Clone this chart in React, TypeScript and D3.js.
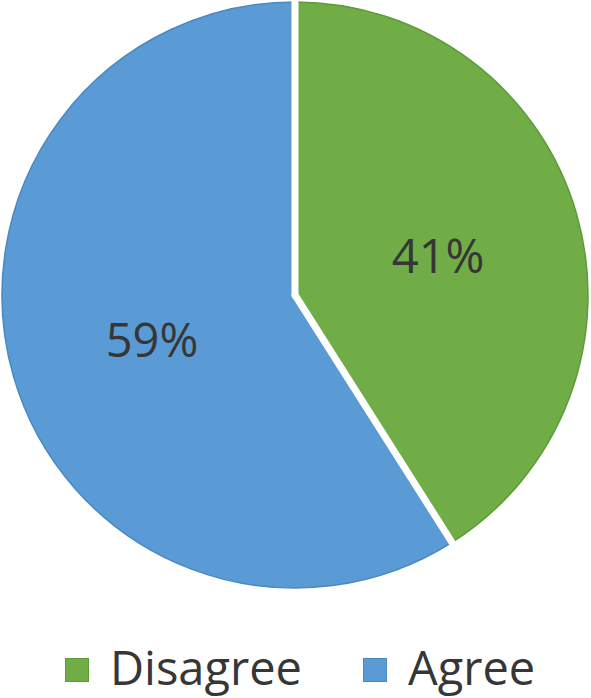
import React from "react";
import * as d3 from "d3";

// chart data
const categories = ["Disagree", "Agree"];
const shares = [41, 59];
const colors = ["#70AD47", "#5B9BD5"];
const edgeColors = ["#5E9A38", "#4A88C4"];

const W = 591;
const H = 698;
const cx = 295;
const cy = 295;
const R = 293;

export default function App() {
  const pie = d3.pie<number>().sort(null).value((d) => d);
  const arcs = pie(shares);
  const arc = d3.arc<d3.PieArcDatum<number>>().innerRadius(0).outerRadius(R);
  const labelArc = d3.arc<d3.PieArcDatum<number>>().innerRadius(149).outerRadius(149);

  // legend layout
  const legendX = d3.scaleOrdinal<string, number>().domain(categories).range([65, 363]);

  return (
    <svg width={W} height={H} style={{ position: "absolute", left: 0, top: 0, background: "#fff" }}>
      <g transform={`translate(${cx},${cy})`}>
        {arcs.map((a, i) => (
          <path key={"e" + i} d={arc(a) || ""} fill={colors[i]} stroke={edgeColors[i]} strokeWidth={1.5} />
        ))}
        {/* white separators along the slice edges */}
        {arcs.map((a, i) => (
          <line
            key={"s" + i}
            x1={0}
            y1={0}
            x2={(R + 4) * Math.sin(a.startAngle)}
            y2={-(R + 4) * Math.cos(a.startAngle)}
            stroke="#fff"
            strokeWidth={7}
            strokeLinecap="round"
          />
        ))}
        {arcs.map((a, i) => {
          const [x, y] = labelArc.centroid(a);
          return (
            <text
              key={"l" + i}
              x={x}
              y={y + 20}
              textAnchor="middle"
              fontFamily="Open Sans"
              fontSize={47}
              fill="#363636"
            >
              {shares[i]}%
            </text>
          );
        })}
      </g>
      {categories.map((c, i) => (
        <g key={c} transform={`translate(${legendX(c)},658)`}>
          <rect x={0.5} y={0.5} width={23} height={23} fill={colors[i]} stroke={edgeColors[i]} strokeWidth={1} />
          <text x={45} y={27} fontFamily="Open Sans" fontSize={47} fill="#363636">
            {c}
          </text>
        </g>
      ))}
    </svg>
  );
}
